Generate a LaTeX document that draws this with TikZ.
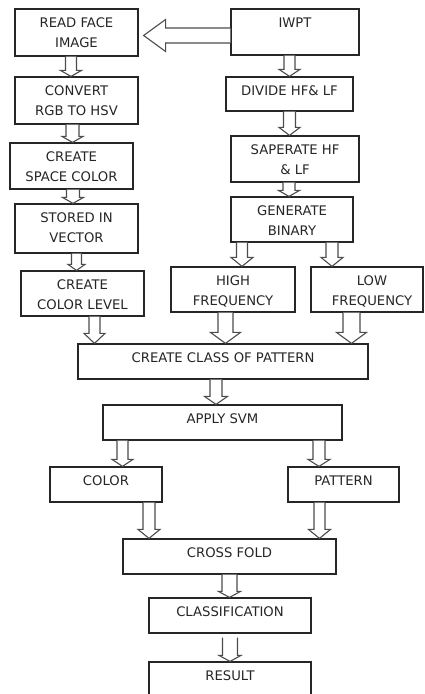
\documentclass[tikz,border=0pt]{standalone}
\usepackage{fontspec}
\setmainfont{DejaVu Sans}
\usetikzlibrary{calc}

% hollow block arrow straight down: start, target node, half shaft, half head, head length
\newcommand{\hollowdown}[5]{%
  \draw[blk] let \p1=(#1), \p2=(#2.north) in
    (\x1-#3pt,\y1) -- (\x1-#3pt,\y2+#5pt) -- (\x1-#4pt,\y2+#5pt) -- (\x1,\y2)
    -- (\x1+#4pt,\y2+#5pt) -- (\x1+#3pt,\y2+#5pt) -- (\x1+#3pt,\y1);}

\begin{document}
\begin{tikzpicture}[
  x=1pt, y=-1pt,
  box/.style={draw=black!85, line width=1.2pt, fill=white, inner sep=0pt},
  lbl/.style={anchor=north, yshift=-9.5pt, inner sep=0pt, align=center,
              text=black!85, font=\fontsize{13.2}{20}\selectfont},
  blk/.style={draw=black!70, line width=1.1pt, fill=white, line join=miter},
]
\useasboundingbox (0,0) rectangle (424,694);
\clip (0,0) rectangle (424,694);

% ---- left column: colour ----
\node[box, minimum width=123, minimum height=47] (read)   at (76.5,32.5)  {};
\node[box, minimum width=123, minimum height=47] (conv)   at (76.5,100.5) {};
\node[box, minimum width=123, minimum height=46] (space)  at (71.5,166)   {};
\node[box, minimum width=123, minimum height=49] (stored) at (76.5,228.5) {};
\node[box, minimum width=123, minimum height=45] (clev)   at (82.5,293.5) {};

% ---- right column: pattern ----
\node[box, minimum width=128, minimum height=46] (iwpt)   at (295,32)     {};
\node[box, minimum width=127, minimum height=34] (divide) at (289.5,94)   {};
\node[box, minimum width=128, minimum height=46] (sep)    at (295,159)    {};
\node[box, minimum width=122, minimum height=45] (gen)    at (292,219.5)  {};
\node[box, minimum width=124, minimum height=45] (high)   at (233,289.5)  {};
\node[box, minimum width=112, minimum height=45] (low)    at (367,289.5)  {};

% ---- merged stages ----
\node[box, minimum width=290, minimum height=35] (class)   at (223,361.5)   {};
\node[box, minimum width=239, minimum height=35] (svm)     at (222.5,422.5) {};
\node[box, minimum width=112, minimum height=35] (color)   at (106,484.5)   {};
\node[box, minimum width=111, minimum height=35] (patt)    at (343.5,484.5) {};
\node[box, minimum width=213, minimum height=35] (cross)   at (229.5,556.5) {};
\node[box, minimum width=162, minimum height=35] (classif) at (230,615.5)   {};
\node[box, minimum width=162, minimum height=50] (result)  at (230,687)     {};

% ---- texts ----
\node[lbl] (read-t)    at (read.north)    {READ FACE\\IMAGE};
\node[lbl] (conv-t)    at (conv.north)    {CONVERT\\RGB TO HSV};
\node[lbl] (space-t)   at (space.north)   {CREATE\\SPACE COLOR};
\node[lbl] (stored-t)  at (stored.north)  {STORED IN\\VECTOR};
\node[lbl] (clev-t)    at (clev.north)    {CREATE\\COLOR LEVEL};
\node[lbl] (iwpt-t)    at (iwpt.north)    {IWPT};
\node[lbl] (divide-t)  at (divide.north)  {DIVIDE HF\& LF};
\node[lbl] (sep-t)     at (sep.north)     {SAPERATE HF\\\& LF};
\node[lbl] (gen-t)     at (gen.north)     {GENERATE\\BINARY};
\node[lbl] (high-t)    at (high.north)    {HIGH\\FREQUENCY};
\node[lbl, xshift=5pt] (low-t) at (low.north) {LOW\\FREQUENCY};
\node[lbl] (class-t)   at (class.north)   {CREATE CLASS OF PATTERN};
\node[lbl] (svm-t)     at (svm.north)     {APPLY SVM};
\node[lbl] (color-t)   at (color.north)   {COLOR};
\node[lbl] (patt-t)    at (patt.north)    {PATTERN};
\node[lbl] (cross-t)   at (cross.north)   {CROSS FOLD};
\node[lbl] (classif-t) at (classif.north) {CLASSIFICATION};
\node[lbl] (result-t)  at (result.north)  {RESULT};

% ---- block arrows ----
\draw[blk] let \p1=([yshift=-3.5pt]iwpt.west), \p2=([xshift=5pt]read.east) in
  (\x1,\y1+7.5pt) -- (\x2+22pt,\y1+7.5pt) -- (\x2+22pt,\y1+16pt) -- (\x2,\y1)
  -- (\x2+22pt,\y1-16pt) -- (\x2+22pt,\y1-7.5pt) -- (\x1,\y1-7.5pt);

\hollowdown{[xshift=-5.5pt]read.south}{conv}{5.5}{10.5}{6}
\hollowdown{[xshift=-4pt]conv.south}{space}{6.5}{10.5}{6}
\hollowdown{[xshift=1.5pt]space.south}{stored}{6.5}{10.5}{6}
\hollowdown{stored.south}{clev}{5}{8.5}{6}
\hollowdown{[xshift=-5.5pt]iwpt.south}{divide}{5.5}{10.5}{7}
\hollowdown{divide.south}{sep}{6}{10.5}{8}
\hollowdown{[xshift=-6pt]sep.south}{gen}{6}{10.5}{6}
\hollowdown{[xshift=-50pt]gen.south}{high}{5.5}{11}{9}
\hollowdown{[xshift=40pt]gen.south}{low}{6}{11}{9}
\hollowdown{[xshift=12pt]clev.south}{class}{5.5}{10.5}{10}
\hollowdown{[xshift=-7.5pt]high.south}{class}{7.5}{15}{11}
\hollowdown{[xshift=-15.5pt]low.south}{class}{8.5}{15}{11}
\hollowdown{[xshift=-7pt]class.south}{svm}{6}{11.5}{8}
\hollowdown{[xshift=-100pt]svm.south}{color}{5.5}{10.5}{7}
\hollowdown{[xshift=96.5pt]svm.south}{patt}{6}{11}{7}
\hollowdown{[xshift=43pt]color.south}{cross}{6}{11}{9}
\hollowdown{[xshift=-24pt]patt.south}{cross}{5.5}{11}{9}
\hollowdown{cross.south}{classif}{7.5}{11}{6}
\hollowdown{[yshift=-4pt]classif.south}{result}{7.5}{11}{6}
\end{tikzpicture}
\end{document}
